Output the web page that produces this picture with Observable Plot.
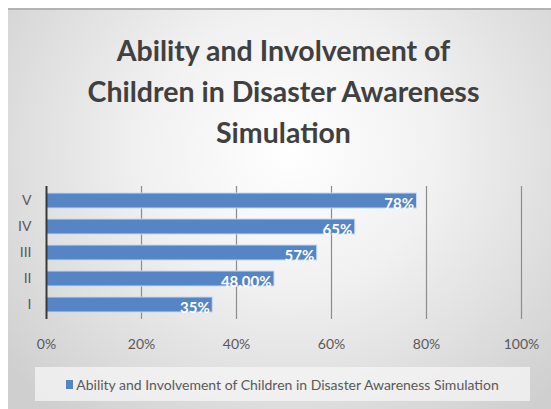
<!DOCTYPE html>
<html><head><meta charset="utf-8">
<script src="https://cdn.jsdelivr.net/npm/d3@7"></script>
<script src="https://cdn.jsdelivr.net/npm/@observablehq/plot@0.6"></script>
<style>
html,body{margin:0;padding:0;background:#fff;}
#page{position:relative;width:551px;height:409px;overflow:hidden;font-family:Lato,"Open Sans",sans-serif;}
#panel{position:absolute;left:8px;top:8px;right:0;bottom:0;border-top:2px solid #b3b3b3;background:radial-gradient(ellipse 68% 85% at 52% 35%, #ffffff 0%, #f1f1f1 40%, #cfcfcf 100%);}
#title{position:absolute;left:16px;right:0;top:30px;text-align:center;font-weight:700;color:#404040;font-size:28.5px;line-height:41px;}
#chart{position:absolute;left:0;top:170px;}
#legend{position:absolute;left:35px;top:367px;width:495px;height:34px;background:rgba(246,246,246,0.75);display:flex;align-items:center;justify-content:center;color:#595959;font-size:14px;}
#legend .sw{display:inline-block;width:7px;height:9px;background:#5585c5;margin-right:3px;}
</style></head>
<body>
<div id="page">
  <div id="panel"></div>
  <div id="title">Ability and Involvement of<br>Children in Disaster Awareness<br>Simulation</div>
  <div id="chart"></div>
  <div id="legend"><span class="sw"></span><span id="legtext">Ability and Involvement of Children in Disaster Awareness Simulation</span></div>
</div>
<script>
const categories = ["I", "II", "III", "IV", "V"];
const values = [35, 48, 57, 65, 78];
const valueLabels = ["35%", "48,00%", "57%", "65%", "78%"];
const xTicks = [0, 20, 40, 60, 80, 100];
const tickLabels = ["0%", "20%", "40%", "60%", "80%", "100%"];

const data = categories.map((c, i) => ({cat: c, value: values[i], label: valueLabels[i]}));

const chart = Plot.plot({
  width: 551, height: 190,
  marginLeft: 46, marginRight: 30, marginTop: 16, marginBottom: 41,
  style: {background: "transparent", fontFamily: "Lato, 'Open Sans', sans-serif", fontSize: "14px", color: "#595959"},
  x: {domain: [0, 100], ticks: xTicks, tickFormat: d => tickLabels[xTicks.indexOf(d)], tickSize: 0, tickPadding: 20, label: null},
  y: {domain: [...categories].reverse(), paddingInner: 0.44, paddingOuter: 0.22, tickSize: 0, tickPadding: 15, label: null},
  marks: [
    Plot.ruleX(xTicks.slice(1), {stroke: "#8c8c8c", strokeWidth: 1.2}),
    Plot.barX(data, {x: "value", y: "cat", fill: "#5585c5", stroke: "#c5d9f1", strokeWidth: 1}),
    Plot.text(data, {x: "value", y: "cat", text: "label", textAnchor: "end", dx: -3, dy: 3, fill: "white", fontWeight: "bold", fontSize: 15}),
    Plot.ruleX([0], {stroke: "#3a3a3a", strokeWidth: 2})
  ]
});
document.getElementById("chart").appendChild(chart);
</script>
</body></html>
